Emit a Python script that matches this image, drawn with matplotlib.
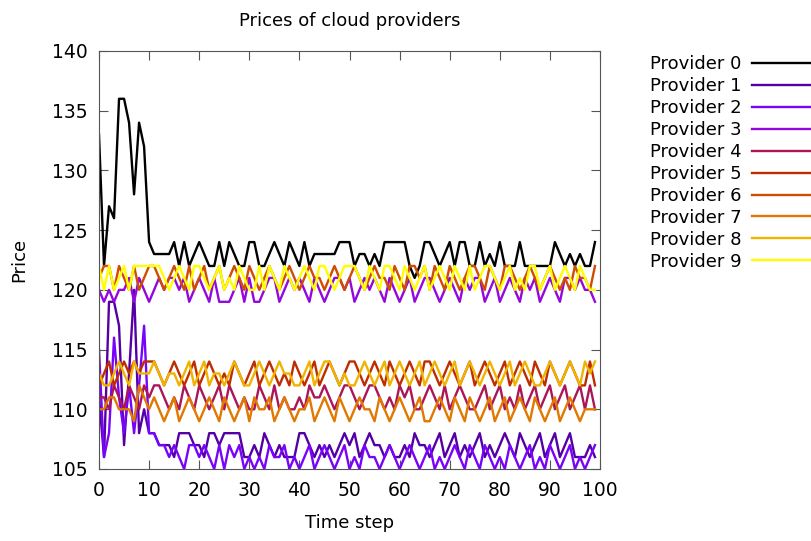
import numpy as np
import matplotlib
matplotlib.use("Agg")
import matplotlib.pyplot as plt

# price series per provider, time steps 0..99
steps = np.arange(100)

p0 = [133,122,127,126,136,136,134,128,134,132,
      124,123,123,123,123,124,122,124,122,123,
      124,123,122,122,124,122,124,123,122,122,
      124,124,122,122,123,124,123,122,124,123,
      122,124,122,123,123,123,123,123,124,124,
      124,122,123,123,122,123,122,124,124,124,
      124,124,122,121,122,124,124,123,122,123,
      124,122,124,124,122,122,124,122,123,122,
      124,122,122,122,124,122,122,122,122,122,
      122,124,123,122,123,122,123,122,122,124]
p1 = [111,106,119,119,117,107,113,120,108,110,
      108,108,107,107,107,106,108,108,108,107,
      107,106,108,108,107,108,108,108,108,106,
      106,107,106,108,107,106,107,106,106,106,
      108,108,107,106,107,106,107,106,107,108,
      107,108,106,107,108,107,107,106,107,106,
      106,107,106,108,107,107,106,107,108,106,
      107,108,106,107,106,107,108,106,107,106,
      107,108,107,106,108,107,106,107,108,106,
      107,108,106,107,108,106,106,106,107,106]
p2 = [115,106,108,116,111,108,112,108,112,117,
      108,108,107,107,106,107,106,105,107,107,
      106,107,106,105,107,105,107,106,107,105,
      106,105,106,105,107,106,106,107,105,106,
      105,106,107,105,106,107,106,105,106,107,
      105,106,105,107,106,106,105,106,107,106,
      105,106,107,106,105,106,107,105,106,105,
      106,107,106,105,107,106,105,107,106,105,
      106,105,107,106,105,106,107,105,106,105,
      107,106,105,106,107,105,106,105,106,107]
p3 = [120,119,120,119,120,120,121,119,121,120,
      119,120,121,120,121,121,120,121,119,120,
      121,120,119,121,119,119,119,120,121,119,
      121,119,119,120,121,121,119,120,121,120,
      121,120,119,121,120,119,120,121,121,120,
      121,119,120,121,120,121,120,119,121,120,
      119,120,121,119,120,121,121,120,119,120,
      121,120,119,121,120,121,121,119,120,121,
      119,120,121,120,119,121,120,121,119,120,
      121,120,119,121,121,120,121,120,120,119]
p4 = [111,111,110,112,111,110,112,111,110,112,
      111,112,112,111,110,111,110,112,111,110,
      112,111,110,111,112,110,112,111,110,111,
      110,110,112,111,110,112,110,111,110,110,
      111,110,112,111,111,112,111,110,111,112,
      112,111,110,111,112,112,111,110,111,110,
      112,111,112,110,110,111,112,111,110,112,
      110,111,112,111,110,110,111,112,110,111,
      112,110,111,110,112,110,111,112,110,111,
      112,110,111,112,110,111,112,110,112,110]
p5 = [112,113,114,112,113,114,113,114,113,114,
      114,114,113,112,113,114,113,112,113,114,
      112,113,114,113,112,113,112,114,113,112,
      113,114,112,113,114,113,112,113,112,114,
      113,112,113,114,112,113,114,113,112,113,
      114,114,113,112,113,114,113,112,114,113,
      112,113,114,113,112,114,114,113,112,113,
      114,113,112,113,114,112,113,114,113,112,
      113,114,112,113,114,113,112,114,113,112,
      114,113,112,113,114,113,112,112,114,112]
p6 = [121,122,122,120,122,121,120,122,120,121,
      122,122,121,120,121,122,121,120,122,120,
      121,122,120,121,122,120,121,122,121,120,
      122,121,120,121,122,121,120,121,122,121,
      120,121,122,121,121,120,121,122,121,120,
      121,122,121,120,121,122,121,121,120,122,
      121,120,122,122,121,122,120,122,121,120,
      122,121,120,121,122,122,121,120,122,121,
      120,122,122,121,120,121,122,121,120,121,
      122,121,120,121,120,122,121,121,120,122]
p7 = [110,110,111,111,110,110,110,109,112,111,
      110,111,110,109,110,111,109,110,111,110,
      109,110,111,110,109,111,110,109,110,111,
      109,111,110,110,111,109,110,111,110,109,
      110,110,111,109,110,111,110,109,111,110,
      109,110,111,110,110,109,111,110,109,110,
      111,110,109,110,111,109,109,110,111,110,
      109,111,110,109,111,110,109,110,111,109,
      110,111,109,110,111,110,109,111,110,109,
      110,111,109,110,111,110,109,110,110,110]
p8 = [113,112,112,113,114,113,112,114,113,113,
      113,114,113,112,113,113,112,113,114,112,
      113,114,112,113,113,112,113,114,113,112,
      112,113,114,113,112,113,114,113,113,112,
      112,113,114,112,113,114,114,113,112,113,
      112,112,113,114,113,112,113,114,112,113,
      114,113,112,113,114,112,113,114,113,112,
      113,114,112,113,114,113,112,113,114,113,
      112,113,114,112,113,114,113,112,112,113,
      114,113,112,113,114,113,112,114,113,114]
p9 = [122,120,122,120,121,122,120,122,122,122,
      122,122,122,121,120,121,122,121,120,122,
      122,121,120,121,122,120,121,120,122,121,
      120,120,122,120,122,121,120,122,121,120,
      121,122,121,120,122,122,121,120,121,122,
      122,122,121,120,122,121,120,122,122,121,
      120,122,121,120,121,122,120,121,122,121,
      120,122,121,120,122,120,121,122,122,121,
      120,121,122,120,121,120,122,122,120,121,
      122,120,121,122,121,120,122,121,120,120]

series = [p0, p1, p2, p3, p4, p5, p6, p7, p8, p9]
labels = ["Provider %d" % i for i in range(10)]

# gnuplot default pm3d palette (rgbformulae 7,5,15)
def pm3d(x):
    r = np.sqrt(x)
    g = x ** 3
    b = max(np.sin(2 * np.pi * x), 0.0)
    return (r, g, b)

colors = [pm3d(i / 9.0) for i in range(10)]

plt.rcParams['font.family'] = ['DejaVu Sans']
fig = plt.figure(figsize=(8.11, 5.41), dpi=100)
ax = fig.add_axes([99/811, 1-469/541, (600-99)/811, (469-51)/541])

for s, lab, c in zip(series, labels, colors):
    ax.plot(steps, s, color=c, lw=1.7, label=lab)

ax.set_xlim(0, 100)
ax.set_ylim(105, 140)
ax.set_xticks(np.arange(0, 101, 10))
ax.set_yticks(np.arange(105, 141, 5))
ax.tick_params(direction='in', top=True, right=True, length=6.5,
               width=0.8, color='#555555', labelsize=13.5)
ax.tick_params(axis='x', pad=9)
ax.tick_params(axis='y', pad=8)
for sp in ax.spines.values():
    sp.set_color('#555555')
    sp.set_linewidth(0.8)

ax.set_title("Prices of cloud providers", fontsize=13, pad=18)
ax.set_xlabel("Time step", fontsize=13, labelpad=10)
ax.set_ylabel("Price", fontsize=13, labelpad=17)

fig.legend(loc='upper left', bbox_to_anchor=(650/811, 1-55/541),
           frameon=False, markerfirst=False, fontsize=13,
           handlelength=4.2, handletextpad=0.6, labelspacing=0.22,
           borderaxespad=0, borderpad=0)

fig.savefig("out.png", dpi=100)
